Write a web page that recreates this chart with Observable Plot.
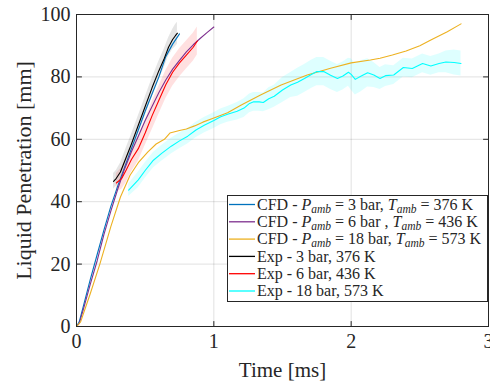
<!DOCTYPE html>
<html><head><meta charset="utf-8">
<script src="https://cdn.jsdelivr.net/npm/d3@7"></script>
<script src="https://cdn.jsdelivr.net/npm/@observablehq/plot@0.6"></script>
<style>body{margin:0;background:#fff;} svg{display:block}</style>
</head><body><div id="chart"></div>
<script>
// ---- tick values ----
const xTicks = [0, 1, 2, 3];
const yTicks = [0, 20, 40, 60, 80, 100];

// ---- CFD 3 bar, 376 K (blue) ----
const tBlue = [0,0.02,0.05,0.1,0.15,0.2,0.25,0.3,0.35,0.4,0.45,0.5,0.55,0.6,0.65,0.7,0.75];
const yBlue = [0,1.5,6.5,15,23,31,38.5,45,51,57,63,69,74.5,80,86.5,90.5,93.8];

// ---- CFD 6 bar, 436 K (purple) ----
const tPurple = [0,0.02,0.05,0.1,0.15,0.2,0.25,0.3,0.35,0.4,0.45,0.5,0.55,0.6,0.65,0.7,0.75,0.8,0.85,0.9,0.95,1.0];
const yPurple = [0,1,5.5,13.5,21,29.5,37,44,50.5,56,61,66,70.5,75,79,82.5,85.3,88,90.3,92.3,94.2,96];

// ---- CFD 18 bar, 573 K (orange) ----
const tOrange = [0,0.03,0.1,0.17,0.25,0.32,0.39,0.45,0.52,0.58,0.64,0.68,0.75,0.8,0.86,0.92,1.0,1.1,1.2,1.34,1.49,1.68,1.85,2.0,2.14,2.21,2.3,2.4,2.5,2.58,2.7,2.8];
const yOrange = [0,1.5,10.5,20,32,41.5,48.5,52.5,56,58.5,60,62,62.8,63.3,64.3,65.5,66.8,68.5,71,74.2,77.4,80.6,82.8,84.5,85.4,86,87,88.3,90,91.8,94.5,97];

// ---- Exp 3 bar, 376 K (black) ----
const tBlack = [0.27,0.29,0.32,0.36,0.40,0.45,0.50,0.55,0.60,0.64,0.67,0.70,0.72,0.735];
const yBlack = [46.5,47.5,49.5,54,58.5,64.5,70.5,76.5,82,86,89.5,92,93.2,94];
const sBlack = [2.5,2.5,2.8,3,3,3,3,3,3,3,3,3.2,3.5,3.5];

// ---- Exp 6 bar, 436 K (red) ----
const tRed = [0.29,0.33,0.36,0.40,0.45,0.50,0.55,0.60,0.65,0.70,0.75,0.80,0.85,0.88];
const yRed = [46,47.5,50,53.5,57,62,67.5,72.5,77.5,81.5,84.5,87,89.5,91.5];
const sRed = [3,3.5,4,4,4,4,4.5,4.5,4.5,4.5,4.5,4.5,4.5,4.5];

// ---- Exp 18 bar, 573 K (cyan) ----
const tCyan = [0.38,0.45,0.5,0.56,0.62,0.69,0.75,0.81,0.87,0.93,1.0,1.05,1.1,1.17,1.22,1.26,1.29,1.33,1.36,1.4,1.44,1.5,1.56,1.61,1.66,1.71,1.75,1.8,1.85,1.9,1.94,1.98,2.0,2.03,2.07,2.12,2.165,2.21,2.25,2.31,2.38,2.445,2.52,2.58,2.64,2.69,2.75,2.8];
const yCyan = [43.7,47,50,53.3,55.5,57.8,59.5,61,63,64.5,66,67.2,68,69,70,71.5,72,72,71.8,73,73.8,75.8,77.4,78.3,79.5,80.8,81.7,81.7,80.5,79.5,80.3,81.5,80.8,79.2,80.2,81.3,80.6,79.5,80.4,80.6,83,82.7,84.3,83.5,84.3,84.8,84.6,84.3];
const sCyan = [2,2.5,2.5,2.5,2.5,2.5,2.5,2.5,2.5,2.5,2.5,2.5,2.5,2.8,3,3,3,3,3,3.5,3.5,4,4,4.5,4.5,4.5,4.5,4.5,4.5,4.5,4.5,4.5,5,5,5,4.5,4,3.5,3.5,3,3,3,3,3,3,3.5,4,4];

// ---- legend ----
const legendColors = ["#0072BD", "#7E2F8E", "#EDB120", "#000000", "#FF0000", "#00FFFF"];
const legendTexts = [
  [["CFD - ",""],["P","i"],["amb","s"],[" = 3 bar, ",""],["T","i"],["amb","s"],[" = 376 K",""]],
  [["CFD - ",""],["P","i"],["amb","s"],[" = 6 bar , ",""],["T","i"],["amb","s"],[" = 436 K",""]],
  [["CFD - ",""],["P","i"],["amb","s"],[" = 18 bar, ",""],["T","i"],["amb","s"],[" = 573 K",""]],
  [["Exp - 3 bar, 376 K",""]],
  [["Exp - 6 bar, 436 K",""]],
  [["Exp - 18 bar, 573 K",""]]
];

const rows = (t, y, s) => t.map((d, i) => ({t: d, y: y[i], lo: s ? y[i] - s[i] : null, hi: s ? y[i] + s[i] : null}));
const blue = rows(tBlue, yBlue), purple = rows(tPurple, yPurple), orange = rows(tOrange, yOrange);
const black = rows(tBlack, yBlack, sBlack), red = rows(tRed, yRed, sRed), cyan = rows(tCyan, yCyan, sCyan);

const FONT = "'Liberation Serif', 'Times New Roman', serif";
const AX = "#262626";
const tickShape = {draw(context, l) { context.moveTo(0, 0); context.lineTo(0, -l); }};
const x0 = xTicks[0], x1 = xTicks[xTicks.length - 1];
const y0 = yTicks[0], y1 = yTicks[yTicks.length - 1];

const svg = Plot.plot({
  width: 490, height: 384,
  marginLeft: 76, marginRight: 2, marginTop: 14, marginBottom: 58,
  x: {domain: [x0, x1]},
  y: {domain: [y0, y1]},
  style: {fontFamily: FONT, fontSize: "20px", color: AX, background: "#fff"},
  marks: [
    Plot.gridX({ticks: xTicks.slice(1, -1), stroke: "#000", strokeOpacity: 0.12}),
    Plot.gridY({ticks: yTicks.slice(1, -1), stroke: "#000", strokeOpacity: 0.12}),
    Plot.areaY(black, {x: "t", y1: "lo", y2: "hi", fill: "#000", fillOpacity: 0.1}),
    Plot.areaY(red, {x: "t", y1: "lo", y2: "hi", fill: "#FF0000", fillOpacity: 0.12}),
    Plot.areaY(cyan, {x: "t", y1: "lo", y2: "hi", fill: "#00FFFF", fillOpacity: 0.13}),
    Plot.line(blue, {x: "t", y: "y", stroke: legendColors[0], strokeWidth: 1.1}),
    Plot.line(purple, {x: "t", y: "y", stroke: legendColors[1], strokeWidth: 1.1}),
    Plot.line(orange, {x: "t", y: "y", stroke: legendColors[2], strokeWidth: 1.1}),
    Plot.line(black, {x: "t", y: "y", stroke: legendColors[3], strokeWidth: 1.1}),
    Plot.line(red, {x: "t", y: "y", stroke: legendColors[4], strokeWidth: 1.1}),
    Plot.line(cyan, {x: "t", y: "y", stroke: legendColors[5], strokeWidth: 1.1}),
    Plot.frame({stroke: AX, strokeWidth: 1}),
    // inward ticks (MATLAB style) on all four sides
    Plot.vector(xTicks, {x: d => d, y: y0, length: 5, rotate: 0, anchor: "start", shape: tickShape, stroke: AX, strokeWidth: 1}),
    Plot.vector(xTicks, {x: d => d, y: y1, length: 5, rotate: 180, anchor: "start", shape: tickShape, stroke: AX, strokeWidth: 1}),
    Plot.vector(yTicks, {x: x0, y: d => d, length: 5, rotate: 90, anchor: "start", shape: tickShape, stroke: AX, strokeWidth: 1}),
    Plot.vector(yTicks, {x: x1, y: d => d, length: 5, rotate: -90, anchor: "start", shape: tickShape, stroke: AX, strokeWidth: 1}),
    Plot.axisX({ticks: xTicks, anchor: "bottom", tickSize: 0, tickPadding: 7, tickFormat: d => String(d), label: null, fill: AX, fontSize: 20}),
    Plot.axisY({ticks: yTicks, anchor: "left", tickSize: 0, tickPadding: 6, tickFormat: d => String(d), label: null, fill: AX, fontSize: 20}),
    Plot.text(["Time [ms]"], {text: d => d, frameAnchor: "bottom", textAnchor: "middle", lineAnchor: "middle", dy: 44, fontSize: 21, fill: AX}),
    Plot.text(["Liquid Penetration [mm]"], {text: d => d, frameAnchor: "left", textAnchor: "middle", lineAnchor: "middle", dx: -53, rotate: -90, fontSize: 22, fill: AX})
  ]
});

// legend box inside the axes
const lg = d3.select(svg).append("g")
  .attr("font-family", FONT).attr("font-size", 16).attr("text-anchor", "start").attr("fill", AX);
lg.append("rect").attr("x", 227.5).attr("y", 195.5).attr("width", 260).attr("height", 106)
  .style("fill", "#ffffff").style("stroke", AX).style("stroke-width", "1px");
legendTexts.forEach((parts, i) => {
  const cy = 204.5 + i * 17.3;
  lg.append("line").attr("x1", 229).attr("x2", 255).attr("y1", cy).attr("y2", cy)
    .style("stroke", legendColors[i]).style("stroke-width", "1.3px");
  const tx = lg.append("text").attr("x", 257).attr("y", cy).attr("dy", "0.33em").attr("text-anchor", "start");
  let shifted = false;
  parts.forEach(([s, k]) => {
    const sp = tx.append("tspan").text(s);
    if (k === "i") sp.attr("font-style", "italic");
    if (k === "s") { sp.attr("font-style", "italic").attr("font-size", 11.5).attr("dy", 3); shifted = true; }
    else if (shifted) { sp.attr("dy", -3); shifted = false; }
  });
});

document.getElementById("chart").appendChild(svg);
</script>
</body></html>
